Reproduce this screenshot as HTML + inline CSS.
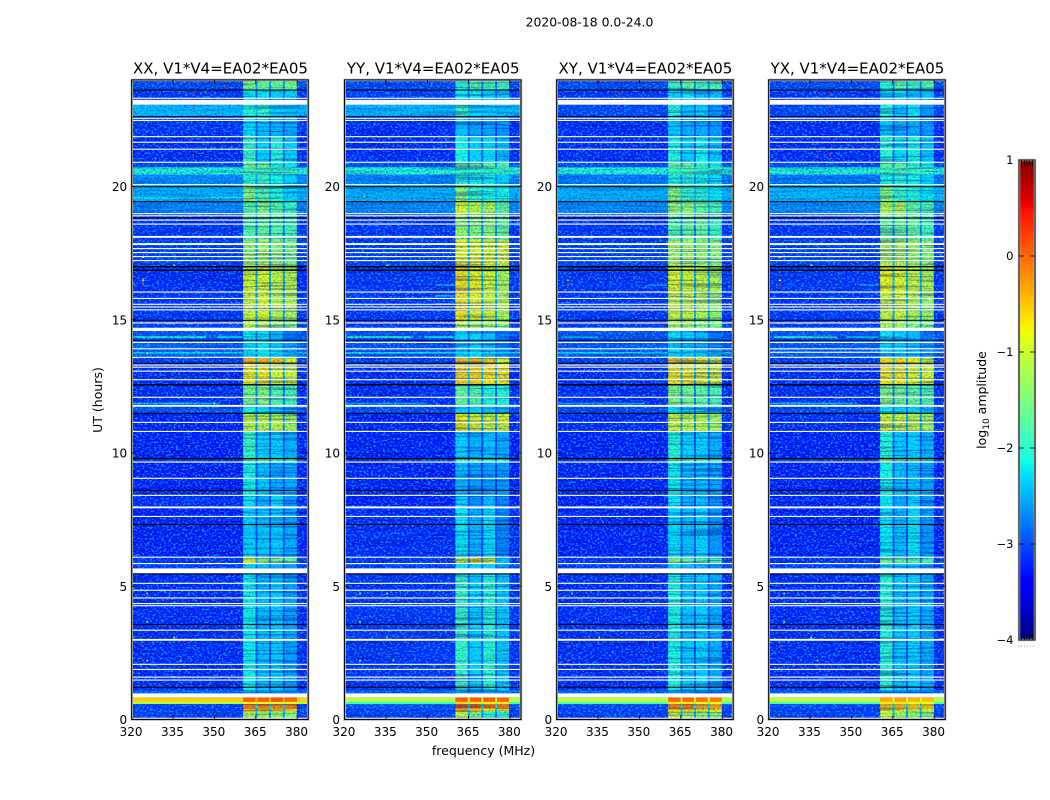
<!DOCTYPE html>
<html lang="en">
<head>
<meta charset="utf-8">
<title>2020-08-18 dynamic spectra</title>
<style>
html,body{margin:0;padding:0;background:#fff;width:1050px;height:800px;overflow:hidden}
svg{display:block}
text{font-family:"DejaVu Sans","Liberation Sans",sans-serif;fill:#000}
</style>
</head>
<body>
<svg id="chart" width="1050" height="800" viewBox="0 0 1050 800" xmlns="http://www.w3.org/2000/svg">
  <defs>
    <filter id="grain-light" x="0" y="0" width="100%" height="100%" color-interpolation-filters="sRGB">
      <feTurbulence type="fractalNoise" baseFrequency="0.42 0.55" numOctaves="2" seed="7"/>
      <feColorMatrix type="matrix" values="0 0 0 0 0  0 0 0 0 0.8  0 0 0 0 1  7 0 0 0 -3.6"/>
    </filter>
    <filter id="grain-dark" x="0" y="0" width="100%" height="100%" color-interpolation-filters="sRGB">
      <feTurbulence type="fractalNoise" baseFrequency="0.45 0.6" numOctaves="2" seed="23"/>
      <feColorMatrix type="matrix" values="0 0 0 0 0  0 0 0 0 0  0 0 0 0 0.7  0 7 0 0 -3.6"/>
    </filter>
    <filter id="row-streaks" x="0" y="0" width="100%" height="100%" color-interpolation-filters="sRGB">
      <feTurbulence type="fractalNoise" baseFrequency="0.012 0.5" numOctaves="2" seed="11"/>
      <feColorMatrix type="matrix" values="0 0 0 0 0  0 0 0 0 0  0 0 0 0 0.5  0 0 8 0 -4"/>
    </filter>
  </defs>
  <text x="589.5" y="26.5" font-size="12.4" text-anchor="middle">2020-08-18 0.0-24.0</text>
  <g id="panels"></g>
  <text x="483.5" y="755" font-size="12.5" text-anchor="middle">frequency (MHz)</text>
  <text x="0" y="0" font-size="12.5" text-anchor="middle" transform="translate(102,400) rotate(-90)">UT (hours)</text>
  <g id="colorbar"></g>
  <text x="0" y="0" font-size="12.5" text-anchor="middle" transform="translate(986,400) rotate(-90)">log<tspan font-size="9" dy="3">10</tspan><tspan dy="-3"> amplitude</tspan></text>
  <line x1="1018" y1="646" x2="1035" y2="646" stroke="#999" stroke-width="1" stroke-dasharray="1 2"/>
</svg>
<script>
// ---- data: tick labels ----
const freqTicks = [320, 335, 350, 365, 380];
const utTicks = [0, 5, 10, 15, 20];
const colorbarTicks = [1, 0, -1, -2, -3, -4];
const panelTitles = ["XX, V1*V4=EA02*EA05", "YY, V1*V4=EA02*EA05", "XY, V1*V4=EA02*EA05", "YX, V1*V4=EA02*EA05"];

// ---- data: heatmap blocks, hour boundaries shared by all panels ----
const utEdges = [24, 23.62, 23.07, 22.62, 21.9, 20.91, 20.72, 20.45, 20.05, 19.43, 18.98, 18.0, 17.05, 16.0, 15.0, 14.62, 14.23, 13.6, 13.37, 12.56, 11.8, 11.49, 10.81, 9.79, 9.66, 8.4, 7.96, 6.09, 5.85, 5.46, 1.1, 0.83, 0.66, 0.58, 0.4, 0.28, 0];
// subband edges in MHz: background | band 1 | gap | band 2 | gap | band 3 | gap | band 4 | background
const freqEdges = [320, 360.4, 364.9, 365.6, 369.8, 370.5, 374.8, 375.5, 379.9, 384];
const yyFreqEdges = [320, 360.2, 364.7, 365.4, 369.6, 370.3, 374.6, 375.3, 379.7, 384];

// log10 amplitude per block: [background, band1, band2, band3, band4]
const xxLevels = [
 [-3.05,-1.5,-1.55,-1.6,-1.5],[-3.15,-2.2,-2.2,-2.3,-2.3],[-2.45,-2.0,-1.9,-2.35,-2.4],[-3.15,-2.25,-2.4,-2.45,-2.5],
 [-3.2,-1.9,-2.3,-2.05,-2.3],[-3.05,-1.5,-1.5,-2.1,-2.2],[-2.0,-1.8,-1.8,-1.9,-1.9],[-2.7,-2.0,-1.9,-2.1,-2.3],
 [-2.5,-1.4,-1.7,-2.0,-2.3],[-2.75,-1.7,-1.4,-1.7,-1.9],[-3.15,-1.7,-1.6,-1.7,-1.8],[-3.1,-1.3,-1.2,-1.35,-1.5],
 [-3.2,-0.9,-0.85,-1.0,-1.05],[-3.15,-0.95,-0.85,-1.1,-1.1],[-3.1,-1.05,-1.05,-1.3,-1.35],[-3.0,-2.2,-2.2,-2.4,-2.8],
 [-2.9,-2.3,-2.2,-2.4,-2.6],[-3.1,-0.4,-0.4,-0.5,-0.85],[-3.2,-0.75,-0.7,-0.9,-0.95],[-3.2,-1.5,-1.4,-1.7,-1.8],
 [-3.0,-2.1,-2.2,-2.3,-2.5],[-3.25,-1.05,-1.05,-1.05,-1.2],[-3.25,-1.9,-2.3,-2.3,-2.45],[-3.1,-1.6,-1.5,-1.8,-1.8],
 [-3.25,-2.1,-2.35,-2.5,-2.5],[-3.2,-2.2,-2.5,-2.25,-2.6],[-3.25,-2.3,-2.35,-2.35,-2.5],[-3.15,-0.8,-1.3,-1.4,-1.6],
 [-3.1,-2.3,-2.4,-2.5,-2.6],[-3.2,-2.15,-2.4,-2.35,-2.55],[-2.9,-2.6,-2.6,-2.7,-2.8],[-0.55,0.05,0.05,0.1,0.0],
 [-1.2,-0.8,-0.8,-0.9,-0.9],[-3.1,-0.05,-0.1,-0.15,-0.1],[-3.1,-0.55,-0.5,-0.6,-0.6],[-3.1,-1.1,-1.2,-1.3,-1.4]
];
const yyLevels = [
 [-3.05,-2.0,-1.7,-1.8,-1.8],[-3.1,-2.2,-2.2,-2.3,-2.4],[-2.45,-1.85,-2.3,-2.35,-2.4],[-3.2,-2.4,-2.55,-2.55,-2.6],
 [-3.2,-2.1,-2.3,-2.25,-2.4],[-3.0,-1.6,-1.6,-1.6,-1.7],[-2.0,-1.9,-1.9,-1.9,-1.9],[-2.75,-2.0,-2.1,-2.15,-2.3],
 [-2.5,-1.35,-1.9,-2.05,-2.1],[-2.7,-0.85,-1.0,-1.15,-1.6],[-3.15,-1.3,-1.4,-1.35,-1.6],[-3.1,-0.8,-0.85,-0.85,-0.9],
 [-3.15,-0.65,-0.75,-0.9,-1.15],[-3.15,-0.7,-0.8,-0.95,-1.1],[-3.15,-1.0,-1.2,-1.2,-1.3],[-3.0,-2.3,-2.3,-2.4,-2.75],
 [-3.0,-2.4,-2.3,-2.5,-2.7],[-3.1,-0.45,-0.4,-0.6,-0.85],[-3.2,-0.55,-0.55,-0.65,-0.7],[-3.2,-1.6,-1.7,-2.0,-2.0],
 [-3.05,-2.3,-2.3,-2.4,-2.5],[-3.25,-0.75,-0.85,-0.95,-0.9],[-3.25,-2.3,-2.45,-2.4,-2.5],[-3.1,-1.7,-1.75,-1.9,-1.9],
 [-3.25,-2.4,-2.55,-2.55,-2.6],[-3.25,-2.3,-2.65,-2.4,-2.7],[-3.2,-2.2,-2.45,-2.25,-2.7],[-3.15,-1.0,-0.6,-0.9,-2.4],
 [-3.1,-2.2,-2.3,-2.3,-2.6],[-3.15,-1.9,-2.3,-2.0,-2.35],[-2.9,-2.5,-2.6,-2.6,-2.7],[-1.1,0.05,0.05,0.05,0.0],
 [-1.9,-0.6,-0.7,-0.7,-0.7],[-3.0,0.0,-0.05,-0.1,-0.1],[-3.1,-0.35,-0.6,-0.8,-0.85],[-3.1,-1.0,-1.5,-2.0,-2.0]
];
const xyLevels = [
 [-3.05,-1.9,-1.6,-1.8,-1.7],[-3.15,-2.25,-2.2,-2.4,-2.4],[-3.05,-2.0,-2.35,-2.25,-2.6],[-3.2,-2.35,-2.5,-2.5,-2.6],
 [-3.2,-2.05,-2.3,-2.15,-2.35],[-3.05,-1.6,-1.55,-1.9,-2.1],[-2.0,-1.85,-1.8,-1.9,-1.9],[-2.8,-2.05,-2.0,-2.1,-2.25],
 [-2.5,-1.4,-1.9,-2.0,-2.2],[-2.7,-1.3,-1.3,-1.6,-1.75],[-3.15,-1.7,-1.6,-1.6,-1.85],[-3.1,-1.2,-1.2,-1.3,-1.4],
 [-3.15,-0.85,-0.9,-1.0,-1.15],[-3.15,-1.0,-1.0,-1.1,-1.3],[-3.1,-1.1,-1.2,-1.4,-1.45],[-3.0,-2.2,-2.3,-2.4,-2.8],
 [-2.95,-2.3,-2.3,-2.4,-2.6],[-3.1,-0.55,-0.55,-0.7,-0.95],[-3.2,-0.7,-0.7,-0.85,-0.9],[-3.2,-1.4,-1.5,-1.65,-1.75],
 [-3.05,-2.2,-2.3,-2.3,-2.5],[-3.2,-0.95,-1.0,-1.05,-1.2],[-3.25,-2.0,-2.3,-2.3,-2.5],[-3.1,-1.5,-1.6,-1.7,-1.8],
 [-3.25,-2.15,-2.4,-2.4,-2.55],[-3.25,-2.2,-2.5,-2.35,-2.6],[-3.25,-2.25,-2.4,-2.3,-2.6],[-3.15,-1.4,-1.6,-1.7,-1.8],
 [-3.1,-2.25,-2.4,-2.4,-2.6],[-3.2,-2.05,-2.35,-2.3,-2.5],[-2.9,-2.6,-2.6,-2.7,-2.8],[-1.1,0.0,0.0,-0.05,-0.1],
 [-1.8,-0.7,-0.7,-0.8,-0.8],[-3.05,-0.1,-0.1,-0.3,-0.3],[-3.1,-0.6,-0.6,-0.7,-0.7],[-3.1,-1.0,-1.2,-1.3,-1.4]
];
const yxLevels = [
 [-3.05,-2.0,-1.6,-1.85,-1.75],[-3.15,-2.3,-2.2,-2.45,-2.4],[-3.05,-2.0,-2.35,-2.2,-2.6],[-3.2,-2.35,-2.5,-2.5,-2.6],
 [-3.2,-2.0,-2.25,-2.1,-2.35],[-3.05,-1.6,-1.55,-1.9,-2.1],[-2.0,-1.85,-1.8,-1.9,-1.9],[-2.8,-2.05,-2.0,-2.1,-2.25],
 [-2.45,-1.4,-1.9,-2.0,-2.2],[-2.7,-1.1,-1.05,-1.6,-1.75],[-3.15,-1.6,-1.55,-1.6,-1.8],[-3.1,-1.15,-1.1,-1.25,-1.35],
 [-3.15,-0.75,-0.8,-1.0,-1.1],[-3.15,-1.0,-0.9,-1.1,-1.25],[-3.1,-1.1,-1.15,-1.4,-1.45],[-3.0,-2.2,-2.3,-2.4,-2.8],
 [-2.95,-2.3,-2.3,-2.4,-2.6],[-3.1,-0.6,-0.6,-0.75,-0.95],[-3.2,-0.7,-0.7,-0.85,-0.9],[-3.2,-1.4,-1.5,-1.6,-1.7],
 [-3.05,-2.2,-2.3,-2.3,-2.5],[-3.2,-0.9,-0.95,-1.05,-1.2],[-3.25,-2.0,-2.35,-2.3,-2.45],[-3.1,-1.5,-1.6,-1.7,-1.8],
 [-3.25,-2.1,-2.4,-2.4,-2.55],[-3.25,-2.2,-2.5,-2.3,-2.6],[-3.25,-2.2,-2.4,-2.2,-2.6],[-3.15,-1.5,-1.6,-1.7,-1.8],
 [-3.1,-2.25,-2.35,-2.4,-2.6],[-3.2,-2.0,-2.35,-2.3,-2.5],[-2.9,-2.6,-2.6,-2.7,-2.8],[-1.1,-0.35,-0.3,-0.4,-0.45],
 [-1.8,-0.7,-0.7,-0.8,-0.8],[-3.05,-0.45,-0.4,-0.5,-0.5],[-3.1,-0.8,-0.8,-0.9,-0.9],[-3.1,-1.0,-1.2,-1.3,-1.4]
];
const panelLevels = [xxLevels, yyLevels, xyLevels, yxLevels];
const panelFreqEdges = [freqEdges, yyFreqEdges, freqEdges, freqEdges];

// ---- data: flagged (white) and empty (black) integrations, hours UT ----
const flaggedHours = [23.31, 22.56, 22.48, 21.87, 21.66, 21.40, 20.91, 20.07, 18.98, 18.90, 18.74, 18.59, 17.67, 17.52, 17.37, 17.22, 16.04, 15.80, 15.58, 15.48, 15.37, 14.88, 14.15, 13.91, 13.59, 13.30, 13.22, 13.07, 12.75, 12.09, 11.15, 10.81, 9.66, 9.05, 8.41, 7.62, 6.09, 5.85, 5.11, 4.85, 4.56, 4.35, 4.27, 3.35, 2.07, 1.88, 1.59, 1.48];
const flaggedThickHours = [18.11, 17.84, 11.77, 7.96, 2.99];
const flaggedBlocks = [[23.25, 23.07], [14.70, 14.58], [5.67, 5.49], [0.98, 0.83]];
const blackHours = [23.62, 22.62, 19.99, 19.43, 18.82, 14.98, 14.23, 13.37, 11.49, 8.6, 7.32, 5.46, 3.57, 1.21];
const blackThickHours = [16.99, 16.86, 12.56, 9.79];
const panelExtraFlagged = [[], [], [], [13.78]];

// ---- data: narrow bright rows [freqStart, freqEnd, hour, level] ----
const xxStreaks = [[320,384,13.76,-2.2],[320,347,14.35,-2.0],[351,360,14.35,-2.2],[320,352,11.86,-2.3],[320,360,19.57,-2.2]];
const yyStreaks = [[320,384,13.76,-2.2],[321,345,14.35,-1.9],[349,360,14.35,-2.2],[320,350,11.86,-2.5],[353,360,16.3,-2.4],[353,360,15.9,-2.4],[353,360,15.6,-2.5]];
const xyStreaks = [[320,384,13.76,-2.2],[322,335,14.35,-2.4],[320,352,11.86,-2.6],[353,360,16.3,-2.6]];
const yxStreaks = [[322,345,14.35,-1.9],[348,360,14.35,-2.2],[320,352,11.86,-2.4],[353,360,16.3,-2.5]];
const panelStreaks = [xxStreaks, yyStreaks, xyStreaks, yxStreaks];

// ---- data: isolated hot pixels [freq, hour, level] ----
const xxHot = [[342.3,23.51,0.4],[342.3,23.0,0.2],[353.5,23.76,0.3],[342.3,21.19,0.3],[324.1,16.48,-0.9],[324.1,16.32,0.2],[335.6,17.84,0.3],[342.3,17.84,0.3],[324.1,17.35,-0.7],[335.4,17.04,-1],[324.1,3.36,0.1],[324.1,2.76,0.3],[324.1,2.21,0.1],[325.6,4.73,-1.5],[325.6,3.67,-1.5],[335.4,3.08,-1],[325.6,2.21,-1],[337.7,2.21,-1.5],[325.6,13.74,-0.9],[349.9,11.86,-1.5]];
const yyHot = [[342.3,17.84,-0.9],[325.6,4.73,-1.1],[335.4,4.73,-1.3],[325.6,3.67,-1.4],[335.4,3.08,-1.4],[325.6,2.21,-1.2],[337.7,2.21,-1.5],[325.6,13.74,-1.2],[335.4,17.04,-1.3],[327,19.6,-0.3]];
const xyHot = [[342.3,23.51,0.4],[342.3,23.0,0.2],[353.5,23.76,0.3],[324.1,16.48,-0.4],[324.1,16.32,0.2],[324.1,2.76,0.3],[324.1,2.21,0.1],[325.6,4.73,-1.5],[325.6,3.67,-1.5],[335.4,3.08,-1]];
const yxHot = [[342.3,23.51,0.4],[342.3,23.0,0.2],[353.5,23.76,0.3],[342.3,21.19,0.3],[324.1,16.48,-0.9],[324.1,16.32,0.2],[342.3,17.84,0.3],[324.1,17.35,-0.7],[335.4,17.04,-1],[324.1,2.76,0.3],[325.6,4.73,-1.5],[325.6,3.67,-1.5],[335.4,3.08,-1],[337.7,2.21,-1.5]];
const panelHot = [xxHot, yyHot, xyHot, yxHot];

// ---- layout ----
const SVG_NS = "http://www.w3.org/2000/svg";
const panelLeft = [131.7, 344.5, 556.7, 768.7];
const panelWidth = 176.5;
const plotTop = 79.9, plotBottom = 719.5;
const freqMin = 320, freqMax = 384, utMin = 0, utMax = 24, levelMin = -4, levelMax = 1;
const cbLeft = 1019, cbRight = 1035, cbTop = 160, cbBottom = 640;

function xAxis(i, f) { return panelLeft[i] + (f - freqMin) / (freqMax - freqMin) * panelWidth; }
function yAxis(h) { return plotBottom - (h - utMin) / (utMax - utMin) * (plotBottom - plotTop); }
function cbAxis(v) { return cbBottom - (v - levelMin) / (levelMax - levelMin) * (cbBottom - cbTop); }

function ramp(t, pts) {
  for (let k = 1; k < pts.length; k++) {
    if (t <= pts[k][0]) {
      const a = pts[k - 1], b = pts[k];
      return a[1] + (b[1] - a[1]) * (t - a[0]) / (b[0] - a[0]);
    }
  }
  return pts[pts.length - 1][1];
}
function jet(v) {
  const t = Math.max(0, Math.min(1, (v - levelMin) / (levelMax - levelMin)));
  const r = ramp(t, [[0,0],[.35,0],[.66,1],[.89,1],[1,.5]]);
  const g = ramp(t, [[0,0],[.125,0],[.375,1],[.64,1],[.91,0],[1,0]]);
  const b = ramp(t, [[0,.5],[.11,1],[.34,1],[.65,0],[1,0]]);
  return "rgb(" + Math.round(r * 255) + "," + Math.round(g * 255) + "," + Math.round(b * 255) + ")";
}
function make(tag, attrs, parent) {
  const e = document.createElementNS(SVG_NS, tag);
  for (const k in attrs) e.setAttribute(k, attrs[k]);
  parent.appendChild(e);
  return e;
}
function label(v) { return v < 0 ? "\u2212" + Math.abs(v) : String(v); }

const panelsGroup = document.getElementById("panels");
const keys = ["xx", "yy", "xy", "yx"];

panelLevels.forEach(function (levels, p) {
  const g = make("g", {}, panelsGroup);
  
  
  const x0 = panelLeft[p], x1 = x0 + panelWidth;
  const edges = panelFreqEdges[p];

  // heatmap cells: one rectangle per UT block and frequency region
  levels.forEach(function (row, s) {
    const top = yAxis(utEdges[s]), bottom = yAxis(utEdges[s + 1]);
    for (let c = 0; c < edges.length - 1; c++) {
      let level;
      if (c === 0 || c === edges.length - 2) level = row[0];
      else if (c % 2 === 1) level = row[(c + 1) / 2];
      else level = row[0] + 0.3 * (row[c / 2] - row[0]);
      const a = xAxis(p, edges[c]), b = xAxis(p, edges[c + 1]);
      const cell = make("rect", { x: a, y: top, width: b - a + 0.3, height: bottom - top + 0.3, fill: jet(level) }, g);
      
      
    }
  });

  // streaks
  panelStreaks[p].forEach(function (st) {
    const a = xAxis(p, st[0]), b = xAxis(p, st[1]);
    const r = make("rect", { x: a, y: yAxis(st[2]) - 0.8, width: b - a, height: 1.6, fill: jet(st[3]) }, g);
    
    
  });

  // speckle texture: stronger over the quiet background, gentler over the bright subbands,
  // and left off the saturated rows near the start of the day
  const bandStart = xAxis(p, edges[1]), bandEnd = xAxis(p, edges[8]);
  const textureSpans = [[x0, bandStart, 0.7, 0.32, 0.16], [bandStart, bandEnd, 0.32, 0.22, 0.32], [bandEnd, x1, 0.7, 0.32, 0.16]];
  const textureRanges = [[plotTop, yAxis(0.83)], [yAxis(0.58), plotBottom]];
  textureRanges.forEach(function (vr) {
    textureSpans.forEach(function (sp) {
      const grainA = make("rect", { x: sp[0], y: vr[0], width: sp[1] - sp[0], height: vr[1] - vr[0], filter: "url(#grain-light)", opacity: sp[2] }, g);
      
      
      const grainB = make("rect", { x: sp[0], y: vr[0], width: sp[1] - sp[0], height: vr[1] - vr[0], filter: "url(#grain-dark)", opacity: sp[3] }, g);
      
      
      const grainC = make("rect", { x: sp[0], y: vr[0], width: sp[1] - sp[0], height: vr[1] - vr[0], filter: "url(#row-streaks)", opacity: sp[4] }, g);
      
      
    });
  });

  // hot pixels
  panelHot[p].forEach(function (hp) {
    const r = make("rect", { x: xAxis(p, hp[0]) - 0.8, y: yAxis(hp[1]) - 0.8, width: 1.7, height: 1.7, fill: jet(hp[2]) }, g);
    
    
  });

  // flagged and empty rows
  flaggedHours.concat(panelExtraFlagged[p]).forEach(function (h) {
    const r = make("rect", { x: x0, y: yAxis(h) - 0.55, width: panelWidth, height: 1.1, fill: "#fff" }, g);
    
    
  });
  flaggedThickHours.forEach(function (h) {
    const r = make("rect", { x: x0, y: yAxis(h) - 0.95, width: panelWidth, height: 1.9, fill: "#fff" }, g);
    
    
  });
  flaggedBlocks.forEach(function (bl) {
    const r = make("rect", { x: x0, y: yAxis(bl[0]), width: panelWidth, height: yAxis(bl[1]) - yAxis(bl[0]), fill: "#fff" }, g);
    
    
  });
  blackHours.forEach(function (h) {
    const r = make("rect", { x: x0, y: yAxis(h) - 0.5, width: panelWidth, height: 1, fill: "#000" }, g);
    
    
  });
  blackThickHours.forEach(function (h) {
    const r = make("rect", { x: x0, y: yAxis(h) - 0.7, width: panelWidth, height: 1.4, fill: "#000" }, g);
    
    
  });

  // bottom white sliver under the data
  const sliver = make("rect", { x: x0, y: plotBottom - 1.8, width: panelWidth, height: 1.8, fill: "#fff" }, g);
  
  

  // frame
  const halo = make("rect", { x: x0, y: plotTop, width: panelWidth, height: plotBottom - plotTop, fill: "none", stroke: "#c8c8c8", "stroke-width": 2.6 }, g);
  
  
  const frame = make("rect", { x: x0, y: plotTop, width: panelWidth, height: plotBottom - plotTop, fill: "none", stroke: "#000", "stroke-width": 1.1 }, g);
  
  

  // frequency ticks
  freqTicks.forEach(function (f) {
    const x = xAxis(p, f);
    const t1 = make("line", { x1: x, x2: x, y1: plotBottom, y2: plotBottom - 4, stroke: "#000", "stroke-width": 0.8 }, g);
    
    
    const t2 = make("line", { x1: x, x2: x, y1: plotTop, y2: plotTop + 4, stroke: "#000", "stroke-width": 0.8 }, g);
    
    
    const tl = make("text", { x: x - 0.6, y: 736, "font-size": 12, "text-anchor": "middle" }, g);
    tl.textContent = f;
    
    
  });

  // UT ticks
  utTicks.forEach(function (h) {
    const y = yAxis(h);
    const t1 = make("line", { x1: x0, x2: x0 + 4, y1: y, y2: y, stroke: "#000", "stroke-width": 0.8 }, g);
    
    
    const t2 = make("line", { x1: x1, x2: x1 - 4, y1: y, y2: y, stroke: "#000", "stroke-width": 0.8 }, g);
    
    
    const tl = make("text", { x: x0 - 4.5, y: y + 4.5, "font-size": 12, "text-anchor": "end" }, g);
    tl.textContent = h;
    
    
  });

  // title
  const title = make("text", { x: x0 + panelWidth / 2 + 0.5, y: 73.5, "font-size": 15, "text-anchor": "middle" }, g);
  title.textContent = panelTitles[p];
  
  
});

// ---- colour bar ----
const cbGroup = document.getElementById("colorbar");
for (let py = cbTop; py < cbBottom; py += 2) {
  const v = levelMax - (py - cbTop + 1) / (cbBottom - cbTop) * (levelMax - levelMin);
  const r = make("rect", { x: cbLeft, y: py, width: cbRight - cbLeft, height: 2.3, fill: jet(v) }, cbGroup);
  
  
}
const cbHalo = make("rect", { x: cbLeft, y: cbTop, width: cbRight - cbLeft, height: cbBottom - cbTop, fill: "none", stroke: "#c8c8c8", "stroke-width": 2.4 }, cbGroup);


const cbFrame = make("rect", { x: cbLeft, y: cbTop, width: cbRight - cbLeft, height: cbBottom - cbTop, fill: "none", stroke: "#000", "stroke-width": 1 }, cbGroup);


colorbarTicks.forEach(function (v) {
  const y = cbAxis(v);
  const t1 = make("line", { x1: cbLeft, x2: cbLeft + 5, y1: y, y2: y, stroke: "#000", "stroke-width": 0.8 }, cbGroup);
  
  
  const t2 = make("line", { x1: cbRight, x2: cbRight - 5, y1: y, y2: y, stroke: "#000", "stroke-width": 0.8 }, cbGroup);
  
  
  const tl = make("text", { x: cbLeft - 5.5, y: y + 4, "font-size": 11.5, "text-anchor": "end" }, cbGroup);
  tl.textContent = label(v);
  
  
});
for (let k = 1; k < 6; k++) {
  const x = cbLeft + k * (cbRight - cbLeft) / 6;
  const a = make("line", { x1: x, x2: x, y1: cbTop, y2: cbTop + 6, stroke: "#000", "stroke-width": 0.7 }, cbGroup);
  
  
  const b = make("line", { x1: x, x2: x, y1: cbBottom, y2: cbBottom - 6, stroke: "#000", "stroke-width": 0.7 }, cbGroup);
  
  
}
</script>
</body>
</html>
